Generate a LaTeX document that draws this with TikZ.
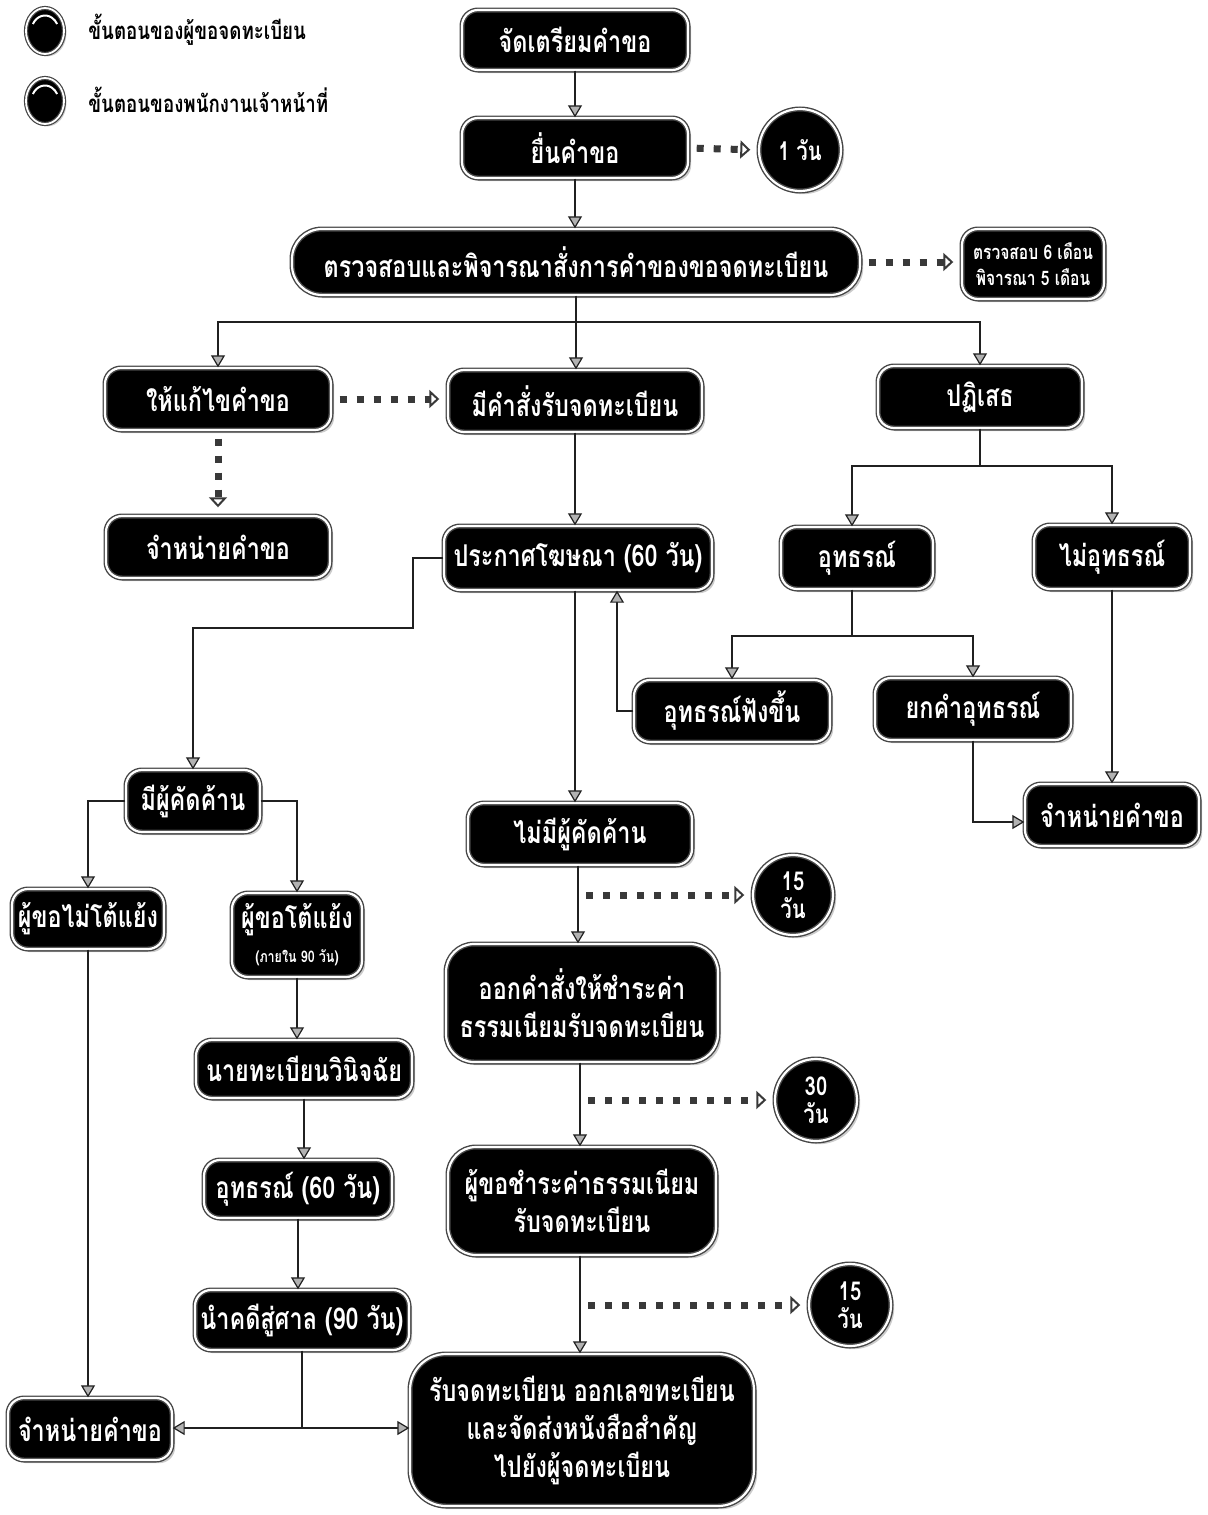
\documentclass[tikz,border=0pt]{standalone}
\usepackage{fontspec}
\newfontfamily\thaifont[Script=Thai,FakeStretch=0.78]{Loma}
\usetikzlibrary{arrows.meta,shadows,shapes.geometric,calc}
\begin{document}
\begin{tikzpicture}[x=0.5pt,y=-0.5pt,
  font=\thaifont,
  box/.style={fill=black, text=white, draw=gray!55!black, double=white, double distance=1.1pt, line width=0.7pt,
    rounded corners=8pt, font=\thaifont\bfseries\fontsize{15}{19}\selectfont, align=center, inner sep=0pt,
    drop shadow={shadow xshift=1.6pt, shadow yshift=-1.6pt, opacity=0.4, fill=gray}},
  dayc/.style={circle, fill=black, text=white, draw=gray!55!black, double=white, double distance=1.1pt, line width=0.7pt,
    font=\thaifont\bfseries\fontsize{13}{14}\selectfont, align=center, inner sep=0pt,
    drop shadow={shadow xshift=1.6pt, shadow yshift=-1.6pt, opacity=0.4, fill=gray}},
  legc/.style={ellipse, fill=black, draw=gray!55!black, double=white, double distance=0.9pt, line width=0.6pt,
    minimum width=19pt, minimum height=23pt, inner sep=0pt,
    drop shadow={shadow xshift=1.2pt, shadow yshift=-1.2pt, opacity=0.4, fill=gray}},
  legt/.style={anchor=west, font=\thaifont\bfseries\fontsize{12}{14}\selectfont, inner sep=0pt},
  arr/.style={draw=gray!25!black, line width=1.1pt, -{Triangle[width=7pt,length=6pt,fill=gray!60,color=gray!25!black,line width=0.6pt]}},
  ln/.style={draw=gray!25!black, line width=1.1pt},
  dsh/.style={draw=gray!45!black, line width=3.5pt, dash pattern=on 3.5pt off 5pt,
    -{Triangle[open,width=9pt,length=5pt,line width=1pt]}, shorten >=4pt, shorten <=4pt},
]
\useasboundingbox (0,0) rectangle (1208,1515);

% legend
\node[legc] (L1) at (45,31) {};
\node[legc] (L2) at (45,101) {};
\draw[white, line width=1pt] (L1.center) ++(150:7pt) arc[start angle=150, end angle=30, x radius=7pt, y radius=8.5pt];
\draw[white, line width=1pt] (L2.center) ++(150:7pt) arc[start angle=150, end angle=30, x radius=7pt, y radius=8.5pt];
\node[legt] (T1) at (88,30) {ขั้นตอนของผู้ขอจดทะเบียน};
\node[legt] (T2) at (88,100) {ขั้นตอนของพนักงานเจ้าหน้าที่};

% nodes
\node[box, minimum width=113pt, minimum height=30pt] (n1) at (575,40) {จัดเตรียมคำขอ};
\node[box, minimum width=113pt, minimum height=30pt] (n2) at (575,148) {ยื่นคำขอ};
\node[dayc, minimum size=41pt] (c1) at (800,150) {1 วัน};
\node[box, rounded corners=15pt, minimum width=284pt, minimum height=33pt] (n3) at (576,262) {ตรวจสอบและพิจารณาสั่งการคำของขอจดทะเบียน};
\node[box, minimum width=71pt, minimum height=35pt, font=\thaifont\bfseries\fontsize{10}{13}\selectfont] (n3b) at (1033,264) {ตรวจสอบ 6 เดือน\\พิจารณา 5 เดือน};
\node[box, minimum width=113pt, minimum height=31pt] (n4) at (218,399) {ให้แก้ไขคำขอ};
\node[box, minimum width=127pt, minimum height=31pt] (n5) at (575,401) {มีคำสั่งรับจดทะเบียน};
\node[box, minimum width=102pt, minimum height=31pt] (n6) at (980,397) {ปฏิเสธ};
\node[box, minimum width=112pt, minimum height=31pt] (n7) at (218,547) {จำหน่ายคำขอ};
\node[box, minimum width=134pt, minimum height=32pt] (n8) at (578,558) {ประกาศโฆษณา (60 วัน)};
\node[box, minimum width=76pt, minimum height=31pt] (n9) at (857,558) {อุทธรณ์};
\node[box, minimum width=78pt, minimum height=32pt] (n10) at (1112,557) {ไม่อุทธรณ์};
\node[box, minimum width=98pt, minimum height=31pt] (n11) at (732,711) {อุทธรณ์ฟังขึ้น};
\node[box, minimum width=98pt, minimum height=31pt] (n12) at (973,709) {ยกคำอุทธรณ์};
\node[box, minimum width=87pt, minimum height=31pt] (n13) at (1112,815) {จำหน่ายคำขอ};
\node[box, minimum width=67pt, minimum height=31pt] (n14) at (193,801) {มีผู้คัดค้าน};
\node[box, minimum width=112pt, minimum height=31pt] (n15) at (580,834) {ไม่มีผู้คัดค้าน};
\node[dayc, minimum size=40pt] (c2) at (793,895) {15\\วัน};
\node[box, minimum width=76pt, minimum height=30pt] (n16) at (88,919) {ผู้ขอไม่โต้แย้ง};
\node[box, minimum width=65pt, minimum height=42pt] (n17) at (297,935) {ผู้ขอโต้แย้ง\\[-2pt]{\fontsize{8}{9}\selectfont (ภายใน 90 วัน)}};
\node[box, rounded corners=14pt, minimum width=136pt, minimum height=59pt] (n18) at (582,1003) {ออกคำสั่งให้ชำระค่า\\ธรรมเนียมรับจดทะเบียน};
\node[dayc, minimum size=41pt] (c3) at (816,1100) {30\\วัน};
\node[box, minimum width=108pt, minimum height=29pt] (n19) at (304,1069) {นายทะเบียนวินิจฉัย};
\node[box, rounded corners=14pt, minimum width=134pt, minimum height=54pt] (n20) at (582,1201) {ผู้ขอชำระค่าธรรมเนียม\\รับจดทะเบียน};
\node[box, minimum width=94pt, minimum height=29pt] (n21) at (298,1189) {อุทธรณ์ (60 วัน)};
\node[dayc, minimum size=41pt] (c4) at (850,1305) {15\\วัน};
\node[box, minimum width=107pt, minimum height=30pt] (n22) at (302,1320) {นำคดีสู่ศาล (90 วัน)};
\node[box, rounded corners=18pt, minimum width=172pt, minimum height=76pt] (n23) at (582,1430) {รับจดทะเบียน ออกเลขทะเบียน\\และจัดส่งหนังสือสำคัญ\\ไปยังผู้จดทะเบียน};
\node[box, minimum width=82pt, minimum height=31pt] (n24) at (90,1429) {จำหน่ายคำขอ};

% connectors
\draw[arr] (n1.south) -- (n2.north);
\draw[arr] (n2.south) -- (n2.south |- n3.north);
\draw[dsh] (n2.east) -- (c1.west);
\draw[dsh] (n3.east) -- (n3b.west |- n3.east);

\coordinate (j1) at (576,322);
\draw[ln] (n3.south) -- (j1);
\draw[arr] (j1) -| (n4.north);
\draw[arr] (j1) -| (n6.north);
\draw[arr] (j1) -- (j1 |- n5.north);

\draw[dsh] (n4.east) -- (n5.west |- n4.east);
\draw[dsh] (n4.south) -- (n7.north);

\draw[arr] (n5.south) -- (n5.south |- n8.north);

\coordinate (j2) at (980,466);
\draw[ln] (n6.south) -- (j2);
\draw[arr] (j2) -| ([xshift=-2.5pt]n9.north);
\draw[arr] (j2) -| (n10.north);

\coordinate (j3) at (852,636);
\draw[ln] ([xshift=-2.5pt]n9.south) -- (j3);
\draw[arr] (j3) -| (n11.north);
\draw[arr] (j3) -| (n12.north);

\draw[arr] (n11.west) -| ([xshift=19.5pt]n8.south);
\draw[arr] (n12.south) |- ([yshift=-3.5pt]n13.west);
\draw[arr] (n10.south) -- (n13.north);

\draw[arr] (n8.west) -| (413,628) -| (n14.north);
\draw[arr] ([xshift=-1.5pt]n8.south) -- ([xshift=-1.5pt]n8.south |- n15.north);

\draw[arr] (n14.west) -| (n16.north);
\draw[arr] (n14.east) -| (n17.north);

\draw[arr] ([xshift=-1pt]n15.south) -- ([xshift=-1pt]n15.south |- n18.north);
\draw[dsh] ([xshift=-1pt]n15.south |- c2.west) -- (c2.west);
\draw[arr] ([xshift=-1pt]n18.south) -- ([xshift=-1pt]n18.south |- n20.north);
\draw[dsh] ([xshift=-1pt]n18.south |- c3.west) -- (c3.west);
\draw[arr] ([xshift=-1pt]n20.south) -- ([xshift=-1pt]n20.south |- n23.north);
\draw[dsh] ([xshift=-1pt]n20.south |- c4.west) -- (c4.west);

\draw[arr] (n17.south) -- (n17.south |- n19.north);
\draw[arr] (n19.south) -- (n19.south |- n21.north);
\draw[arr] (n21.south) -- (n21.south |- n22.north);

\coordinate (j4) at (302,1428);
\draw[ln] (n22.south) -- (j4);
\draw[arr] (j4) -- (n24.east |- j4);
\draw[arr] (j4) -- (n23.west |- j4);

\draw[arr] (n16.south) -- (n16.south |- n24.north);
\end{tikzpicture}
\end{document}
